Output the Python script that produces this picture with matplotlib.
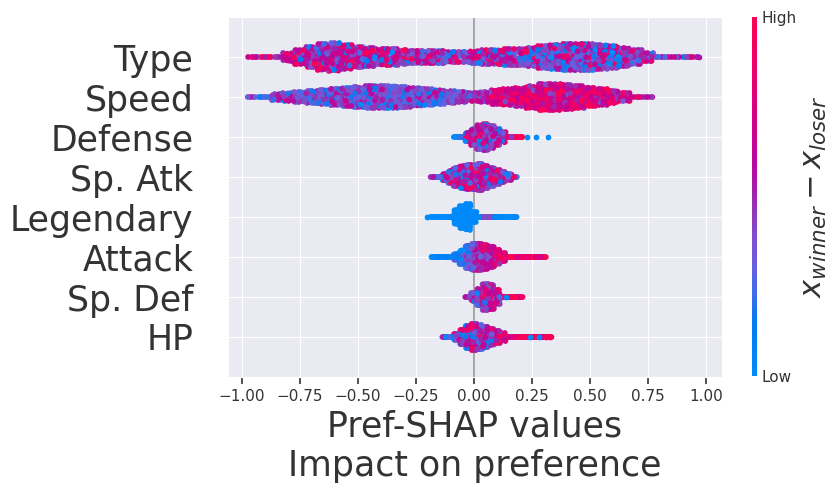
import numpy as np
import matplotlib
matplotlib.use("Agg")
import matplotlib.pyplot as plt
import seaborn as sns
from matplotlib.colors import LinearSegmentedColormap

# feature order, top to bottom
features = ["Type", "Speed", "Defense", "Sp. Atk", "Legendary", "Attack", "Sp. Def", "HP"]

# each row: bin centres (SHAP value), half height of the swarm (px), mean colour (0=Low, 1=High)
type_x = np.round(np.arange(-0.95, 0.951, 0.05), 3)
type_h = [3, 3, 5, 7, 10, 13, 16, 17, 15, 13,
          12, 11, 11, 10, 9, 9, 9, 8, 8,
          9,
          10, 10, 11, 11, 12, 14, 15, 16, 16, 16,
          15, 14, 12, 10, 7, 5, 4, 3, 3]
type_c = [0.75, 0.7, 0.65, 0.62, 0.6, 0.58, 0.58, 0.58, 0.57, 0.56,
          0.55, 0.54, 0.53, 0.52, 0.52, 0.51, 0.5, 0.5, 0.49,
          0.48,
          0.46, 0.44, 0.43, 0.42, 0.41, 0.4, 0.39, 0.39, 0.39, 0.4,
          0.41, 0.42, 0.43, 0.44, 0.45, 0.46, 0.48, 0.5, 0.52]

speed_x = np.round(np.arange(-0.95, 0.751, 0.05), 3)
speed_h = [4, 5, 6, 7, 8, 9, 10, 11, 12, 13, 14, 14, 14, 13, 12, 11, 10, 9, 8,
           7, 8, 10, 11, 12, 14, 16, 16, 15, 14, 12, 11, 9, 7, 5, 3]
speed_c = [0.4, 0.4, 0.4, 0.4, 0.4, 0.4, 0.4, 0.4, 0.38,
           0.36, 0.35, 0.35, 0.35, 0.36, 0.37, 0.38, 0.4, 0.44, 0.48,
           0.52, 0.6, 0.7, 0.74, 0.76, 0.76, 0.76, 0.76, 0.76, 0.75, 0.74,
           0.73, 0.72, 0.72, 0.72, 0.72]

defense_x = np.round(np.arange(-0.075, 0.2001, 0.025), 3)
defense_h = [3, 3, 7, 11, 15, 16, 14, 11, 8, 5, 4, 3]
defense_c = [0.1, 0.15, 0.4, 0.48, 0.5, 0.52, 0.54, 0.55, 0.58, 0.7, 0.88, 0.92]

spatk_x = np.round(np.arange(-0.175, 0.1751, 0.025), 3)
spatk_h = [3, 4, 6, 9, 12, 14, 15, 15, 16, 14, 12, 10, 8, 6, 3]
spatk_c = [0.42, 0.45, 0.48, 0.48, 0.5, 0.52, 0.52, 0.53, 0.54, 0.54, 0.55, 0.55, 0.55, 0.55, 0.52]

legend_x = np.round(np.arange(-0.175, 0.1751, 0.025), 3)
legend_h = [3, 3, 3, 5, 10, 14, 16, 8, 3, 3, 3, 3, 3, 3, 3]
legend_c = [0.02, 0.02, 0.02, 0.02, 0.02, 0.02, 0.02, 0.02, 0.05, 0.45, 0.4, 0.05, 0.02, 0.02, 0.02]

attack_x = np.round(np.arange(-0.175, 0.3001, 0.025), 3)
attack_h = [3, 3, 4, 5, 6, 10, 14, 16, 16, 15, 13, 10, 7, 5, 4, 4, 3, 3, 3, 3]
attack_c = [0.03, 0.03, 0.03, 0.05, 0.08, 0.15, 0.3, 0.48, 0.55, 0.6,
            0.66, 0.78, 0.88, 0.94, 0.95, 0.97, 0.98, 0.98, 0.98, 0.98]

spdef_x = np.round(np.arange(-0.025, 0.2001, 0.025), 3)
spdef_h = [4, 7, 11, 16, 15, 10, 5, 3, 3, 3]
spdef_c = [0.38, 0.45, 0.5, 0.52, 0.56, 0.62, 0.82, 0.9, 0.95, 0.95]

hp_x = np.round(np.arange(-0.125, 0.3251, 0.025), 3)
hp_h = [3, 4, 6, 10, 14, 16, 15, 13, 11, 9, 7, 5, 4, 3, 3, 3, 3, 3, 3]
hp_c = [0.28, 0.28, 0.32, 0.44, 0.48, 0.5, 0.52, 0.55, 0.6, 0.66,
        0.75, 0.82, 0.88, 0.92, 0.95, 0.95, 0.97, 0.98, 0.98]

# colour spread of points inside each row
spreads = [0.65, 0.4, 0.55, 0.55, 0.05, 0.4, 0.5, 0.55]

# single stray points: (row, x, colour)
stray_row = ["Type", "Defense", "Defense", "Defense", "Legendary", "Sp. Def", "HP", "HP", "HP", "HP"]
stray_x = [0.97, 0.23, 0.27, 0.32, -0.20, 0.14, 0.24, 0.28, 0.31, 0.33]
stray_c = [0.55, 0.0, 0.0, 0.0, 0.0, 0.02, 0.0, 0.02, 0.98, 0.98]

rows = [(type_x, type_h, type_c), (speed_x, speed_h, speed_c),
        (defense_x, defense_h, defense_c), (spatk_x, spatk_h, spatk_c),
        (legend_x, legend_h, legend_c), (attack_x, attack_h, attack_c),
        (spdef_x, spdef_h, spdef_c), (hp_x, hp_h, hp_c)]

red_blue = LinearSegmentedColormap.from_list("red_blue", [
    (0.00, "#008BFB"), (0.10, "#0080F5"), (0.16, "#0A78F0"), (0.22, "#3A6EEB"),
    (0.30, "#6560E0"), (0.37, "#7B52D0"), (0.43, "#8A40BE"), (0.50, "#9E26AE"),
    (0.58, "#B50A9F"), (0.70, "#CF0088"), (0.83, "#E8006E"), (1.00, "#FF0052")])


def dither(k, seed):
    # deterministic hash in [0, 1) used to break up the dot grid
    v = np.sin(k * 12.9898 + seed * 78.233) * 43758.5453
    return v - np.floor(v)


sns.set_style("darkgrid")
plt.rcParams["font.family"] = ["DejaVu Sans"]

fig = plt.figure(figsize=(8.39, 4.95), dpi=100)
ax = fig.add_axes([228 / 839, 118 / 495, 494 / 839, 360 / 495])
n = len(features)

px_per_row = 40.0
for r, (name, (xs, hs, cs)) in enumerate(zip(features, rows)):
    ypos = n - 1 - r
    bw = xs[1] - xs[0]
    px, py, pc = [], [], []
    k = 0
    for xb, hb, cb in zip(xs, hs, cs):
        e = max(hb - 3, 0) / px_per_row
        m = int(e / 0.075)
        for j in range(5):
            xx = xb + (j - 2) / 5 * bw
            ys = np.linspace(-e, e, 2 * m + 1) if m > 0 else np.array([0.0])
            for yy in ys:
                jx = (dither(k, r + 1) - 0.5) * bw / 5
                jy = (dither(k, r + 11) - 0.5) * 0.06 if m > 0 else 0.0
                yy = np.clip(yy + jy, -e, e)
                s = dither(k, r + 21) + dither(k, r + 41) - 1
                px.append(xx + jx)
                py.append(ypos + yy)
                pc.append(np.clip(cb + spreads[r] * s, 0, 1))
                k += 1
    order = np.argsort(dither(np.arange(k), r + 31))
    px, py, pc = np.array(px)[order], np.array(py)[order], np.array(pc)[order]
    ax.scatter(px, py, c=pc, cmap=red_blue, vmin=0, vmax=1, s=17,
               linewidth=0, zorder=3, rasterized=True)

for name, xv, cv in zip(stray_row, stray_x, stray_c):
    ypos = n - 1 - features.index(name)
    ax.scatter([xv], [ypos], c=[cv], cmap=red_blue, vmin=0, vmax=1, s=17,
               linewidth=0, zorder=4)

ax.axvline(0, color="#999999", lw=1.2, zorder=2)
ax.set_xlim(-1.06, 1.07)
ax.set_ylim(-1, n)
ax.set_yticks(range(n))
ax.set_yticklabels(features[::-1], fontsize=25, color="#333333")
ax.set_xticks(np.arange(-1.0, 1.01, 0.25))
ax.tick_params("y", length=0, pad=25)
ax.tick_params("x", bottom=True, length=5, width=1.2, color="#333333",
               labelsize=11, labelcolor="#333333")
ax.set_xlabel("Pref-SHAP values\nImpact on preference", fontsize=25,
              color="#333333", labelpad=4)

cax = fig.add_axes([752 / 839, 119 / 495, 5 / 839, 359 / 495])
sm = plt.cm.ScalarMappable(cmap=red_blue, norm=plt.Normalize(0, 1))
cb = fig.colorbar(sm, cax=cax, ticks=[0, 1])
cb.set_ticklabels(["Low", "High"])
cb.ax.tick_params(labelsize=11, length=0, labelcolor="#333333")
cb.outline.set_visible(False)
cb.set_label(r"$x_{winner} - x_{loser}$", size=22, labelpad=2, color="#333333")

fig.savefig("out.png", dpi=100)
